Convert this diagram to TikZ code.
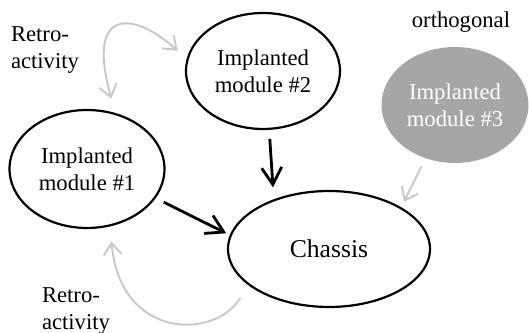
\documentclass[tikz,border=0pt]{standalone}
\usepackage{fontspec}
\setmainfont{Liberation Serif}
\usetikzlibrary{arrows.meta,shapes.geometric}

\definecolor{softgray}{RGB}{200,200,200}
\definecolor{modgray}{RGB}{166,166,166}

\begin{document}
\begin{tikzpicture}[x=0.02cm, y=-0.02cm,
    module/.style={draw, ellipse, line width=1.25pt, inner sep=0pt, align=center,
      minimum width=3.08cm, minimum height=2.32cm, font=\fontsize{12.9}{15.3}\selectfont},
    push/.style={line width=1.6pt, -{Straight Barb[length=0.34cm, width=0.4cm, line width=1.6pt]}},
    barb/.tip={Straight Barb[length=0.24cm, width=0.36cm, line width=1.1pt]},
    retro/.style={line width=1.1pt, draw=softgray},
    lbl/.style={align=left, inner sep=0pt, font=\fontsize{12.9}{15.3}\selectfont}]
  \useasboundingbox (0,0) rectangle (529,333);

  \node[module] (m2) at (263,71) {Implanted\\module \#2};
  \node[module, minimum width=3.1cm, minimum height=2.36cm] (m1) at (87,169) {Implanted\\module \#1};
  \node[module, draw=none, fill=modgray, text=white, minimum width=2.94cm] (m3) at (455,105) {Implanted\\module \#3};
  \node[module, minimum width=4.04cm, font=\fontsize{14.6}{17}\selectfont] (ch) at (329,249) {Chassis};

  \node[lbl] (orth) at (461,22) {orthogonal};
  \node[lbl] (rtop) at (45,50) {Retro-\\activity};
  \node[lbl] (rbot) at (76,311) {Retro-\\activity};

  % modules feeding the chassis
  \draw[push, shorten <=0.18cm, shorten >=0.24cm] (m2.-84) -- (ch.138);
  \draw[push, shorten <=0.18cm, shorten >=0.08cm] (m1.-23) -- (ch.172);
  \draw[retro, -barb, shorten <=0.16cm, shorten >=0.12cm] (m3.-119) -- (ch.30);

  % retro-activity loops
  \draw[retro, barb-barb, shorten <=0.3cm, shorten >=0.24cm]
    (m1.63) .. controls (85,5) and (135,12) .. (m2.171);
  \draw[retro, -barb, shorten <=0.3cm, shorten >=0.3cm]
    (ch.204) .. controls (215,340) and (120,340) .. (m1.-68);
\end{tikzpicture}
\end{document}
